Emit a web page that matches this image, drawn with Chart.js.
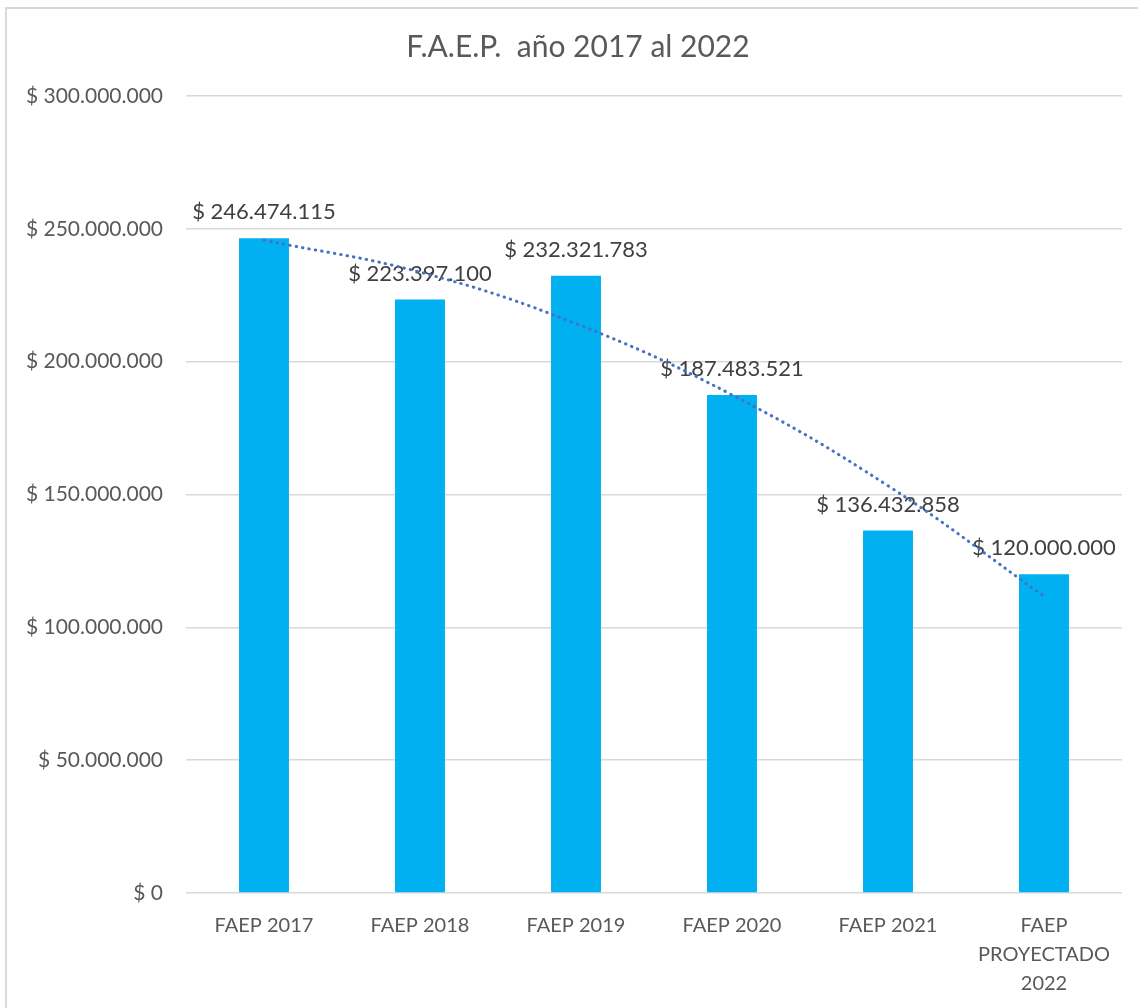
<!DOCTYPE html>
<html>
<head>
<meta charset="utf-8">
<script src="https://cdn.jsdelivr.net/npm/chart.js@4"></script>
<style>
  body { margin: 0; background: #fff; }
  #marco { position: absolute; left: 5px; top: 7px; width: 2000px; height: 2000px; border: 2px solid #D9D9D9; }
  #faepChart { position: absolute; left: 0; top: 0; }
</style>
</head>
<body>
<div id="marco"></div>
<canvas id="faepChart" width="1138" height="1008"></canvas>
<script>
// valores del fondo por año
var categorias = ['FAEP 2017', 'FAEP 2018', 'FAEP 2019', 'FAEP 2020', 'FAEP 2021', ['FAEP', 'PROYECTADO', '2022']];
var montos = [246474115, 223397100, 232321783, 187483521, 136432858, 120000000];
// línea de tendencia (polinómica)
var tendencia = [245700000, 233700000, 214300000, 187500000, 153300000, 111700000];

var TITULO = 'F.A.E.P.  año 2017 al 2022';
var FUENTE = 'Lato, "Liberation Sans", sans-serif';

function pesos(n) {
    return '$ ' + String(n).replace(/\B(?=(\d{3})+(?!\d))/g, '.');
}

// etiquetas de valor encima de cada barra
var etiquetasBarras = {
    id: 'etiquetasBarras',
    beforeDatasetsDraw: function (chart) {
        var ctx = chart.ctx;
        var meta = chart.getDatasetMeta(0);
        ctx.save();
        ctx.font = '22px ' + FUENTE;
        ctx.fillStyle = '#404040';
        ctx.textAlign = 'center';
        ctx.textBaseline = 'middle';
        meta.data.forEach(function (bar, i) {
            ctx.fillText(pesos(montos[i]), bar.x, bar.y - 26);
        });
        ctx.restore();
    }
};

// título centrado sobre todo el marco
var tituloMarco = {
    id: 'tituloMarco',
    afterDraw: function (chart) {
        var ctx = chart.ctx;
        ctx.save();
        ctx.font = '30px ' + FUENTE;
        ctx.fillStyle = '#595959';
        ctx.textAlign = 'center';
        ctx.textBaseline = 'middle';
        ctx.fillText(TITULO, 578, 47);
        ctx.restore();
    }
};

var ctx = document.getElementById('faepChart').getContext('2d');

var faepChart = new Chart(ctx, {
    data: {
        labels: categorias,
        datasets: [{
            type: 'bar',
            label: 'FAEP',
            data: montos,
            backgroundColor: '#00B0F0',
            categoryPercentage: 1,
            barPercentage: 0.32,
            order: 1
        }, {
            type: 'line',
            label: 'Tendencia',
            data: tendencia,
            borderColor: '#4472C4',
            borderWidth: 3,
            borderDash: [0.5, 6],
            borderCapStyle: 'round',
            pointRadius: 0,
            fill: false,
            tension: 0.4,
            order: 0
        }]
    },
    options: {
        responsive: false,
        animation: false,
        devicePixelRatio: 1,
        layout: {
            padding: { left: 0, right: 16, top: 96, bottom: 0 }
        },
        plugins: {
            legend: { display: false },
            tooltip: { enabled: false },
            title: { display: false }
        },
        scales: {
            x: {
                grid: { display: false },
                border: { display: false },
                ticks: {
                    color: '#595959',
                    font: { family: FUENTE, size: 20, lineHeight: '29px' },
                    padding: 10,
                    maxRotation: 0,
                    autoSkip: false
                },
                afterFit: function (scale) { scale.height = 115; }
            },
            y: {
                min: 0,
                max: 300000000,
                grid: { color: '#D9D9D9', lineWidth: 1.5, drawTicks: false },
                border: { display: false },
                ticks: {
                    stepSize: 50000000,
                    color: '#595959',
                    font: { family: FUENTE, size: 21 },
                    padding: 23,
                    callback: function (value) { return pesos(value); }
                },
                afterFit: function (scale) { scale.width = 186; }
            }
        }
    },
    plugins: [etiquetasBarras, tituloMarco]
});
</script>
</body>
</html>
